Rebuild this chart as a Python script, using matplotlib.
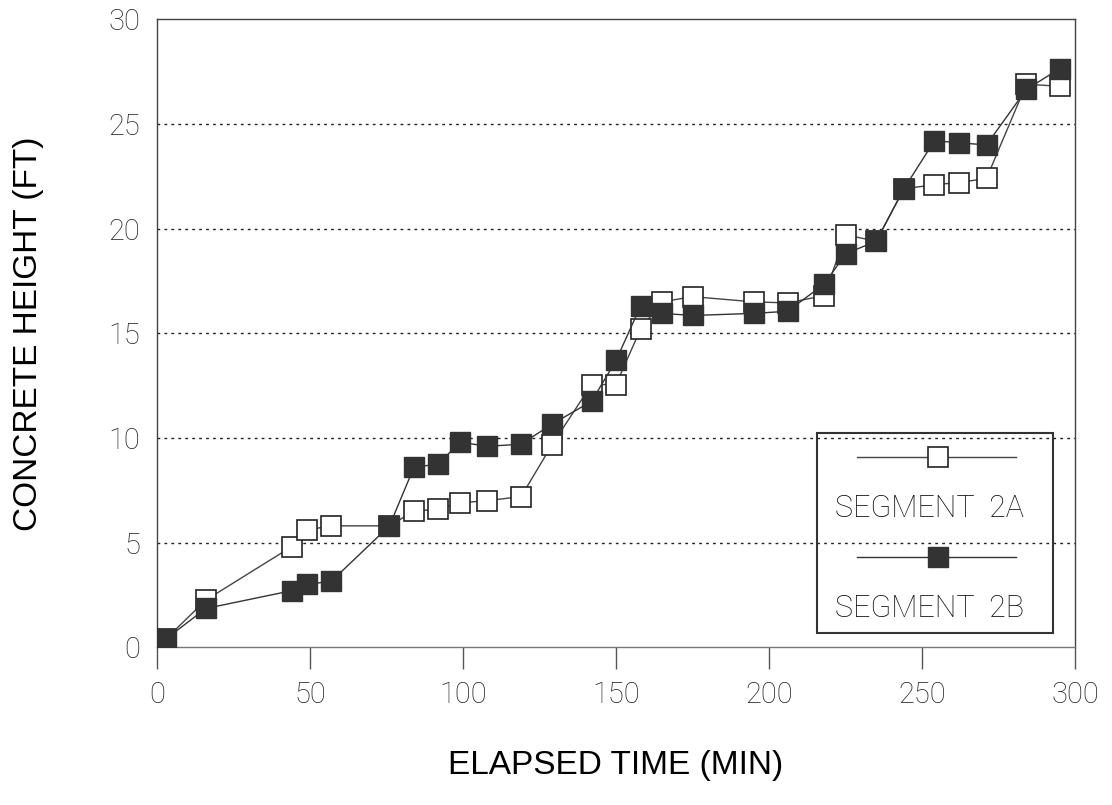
import matplotlib
matplotlib.use('Agg')
import matplotlib.pyplot as plt
from matplotlib.lines import Line2D
from matplotlib.patches import Rectangle

# elapsed time (min), shared by both segments
time_min = [3, 16, 44, 49, 57, 76, 84, 92, 99, 108, 119, 129, 142, 150,
            158, 165, 175, 195, 206, 218, 225, 235, 244, 254, 262, 271, 284, 295]
# concrete height (ft)
seg_2a = [0.4, 2.25, 4.8, 5.6, 5.8, 5.8, 6.5, 6.6, 6.9, 7.0, 7.2, 9.65, 12.55, 12.55,
          15.2, 16.5, 16.75, 16.5, 16.45, 16.8, 19.7, 19.4, 21.9, 22.1, 22.2, 22.4, 26.9, 26.8]
seg_2b = [0.4, 1.85, 2.7, 3.0, 3.15, 5.8, 8.6, 8.75, 9.8, 9.6, 9.7, 10.65, 11.75, 13.7,
          16.3, 15.95, 15.85, 15.95, 16.05, 17.35, 18.8, 19.4, 21.9, 24.2, 24.1, 24.0, 26.65, 27.65]

labels = ['SEGMENT  2A', 'SEGMENT  2B']
xticks = [0, 50, 100, 150, 200, 250, 300]
yticks = [0, 5, 10, 15, 20, 25, 30]

tick_font = ['Roboto', 'DejaVu Sans']

fig = plt.figure(figsize=(11.12, 8.05), dpi=100)
ax = fig.add_axes([0.141, 0.196, 0.826, 0.780])

ax.plot(time_min, seg_2a, color='#444444', lw=1.0, marker='s', ms=14.5,
        mfc='white', mec='#222222', mew=1.2, zorder=3)
ax.plot(time_min, seg_2b, color='#333333', lw=1.0, marker='s', ms=14.5,
        mfc='#333333', mec='#333333', mew=1.0, zorder=4)

ax.set_xlim(0, 300)
ax.set_ylim(0, 30)
ax.set_xticks(xticks)
ax.set_yticks(yticks)
ax.set_xticklabels([str(t) for t in xticks], fontsize=21, family=tick_font,
                   fontweight='light', color='#222222')
ax.set_yticklabels([str(t) for t in yticks], fontsize=21, family=tick_font,
                   fontweight='light', color='#222222')
ax.tick_params(axis='x', direction='out', length=16, width=1.0, pad=8, color='#555555')
ax.tick_params(axis='y', length=0, pad=12)

for y in yticks[1:-1]:
    ax.axhline(y, color='#222222', lw=1.0, ls=(0, (2, 3)), zorder=1)

for side in ['left', 'right', 'top', 'bottom']:
    ax.spines[side].set_linewidth(1.0)
    ax.spines[side].set_color('#444444')
ax.spines['bottom'].set_color('#777777')

ax.set_xlabel('ELAPSED TIME (MIN)', fontsize=24, family='Liberation Sans',
              color='black', labelpad=30)
ax.set_ylabel('CONCRETE HEIGHT (FT)', fontsize=24, family='Liberation Sans',
              color='black', labelpad=46)

# legend box with each handle above its label
ax.add_patch(Rectangle((0.719, 0.022), 0.257, 0.319, transform=ax.transAxes,
                       fill=False, ec='#333333', lw=1.5, zorder=6))
ax.add_line(Line2D([0.762, 0.935], [0.303, 0.303], transform=ax.transAxes,
                   color='#444444', lw=1.0, zorder=7))
ax.add_line(Line2D([0.850], [0.303], transform=ax.transAxes, marker='s', ms=14.5,
                   mfc='white', mec='#222222', mew=1.2, zorder=8))
ax.add_line(Line2D([0.762, 0.935], [0.143, 0.143], transform=ax.transAxes,
                   color='#333333', lw=1.0, zorder=7))
ax.add_line(Line2D([0.850], [0.143], transform=ax.transAxes, marker='s', ms=14.5,
                   mfc='#333333', mec='#333333', zorder=8))
ax.text(0.841, 0.221, labels[0], transform=ax.transAxes, ha='center', va='center',
        fontsize=22, family=tick_font, fontweight='light', color='#111111', zorder=8)
ax.text(0.841, 0.062, labels[1], transform=ax.transAxes, ha='center', va='center',
        fontsize=22, family=tick_font, fontweight='light', color='#111111', zorder=8)

fig.savefig('out.png', dpi=100)
